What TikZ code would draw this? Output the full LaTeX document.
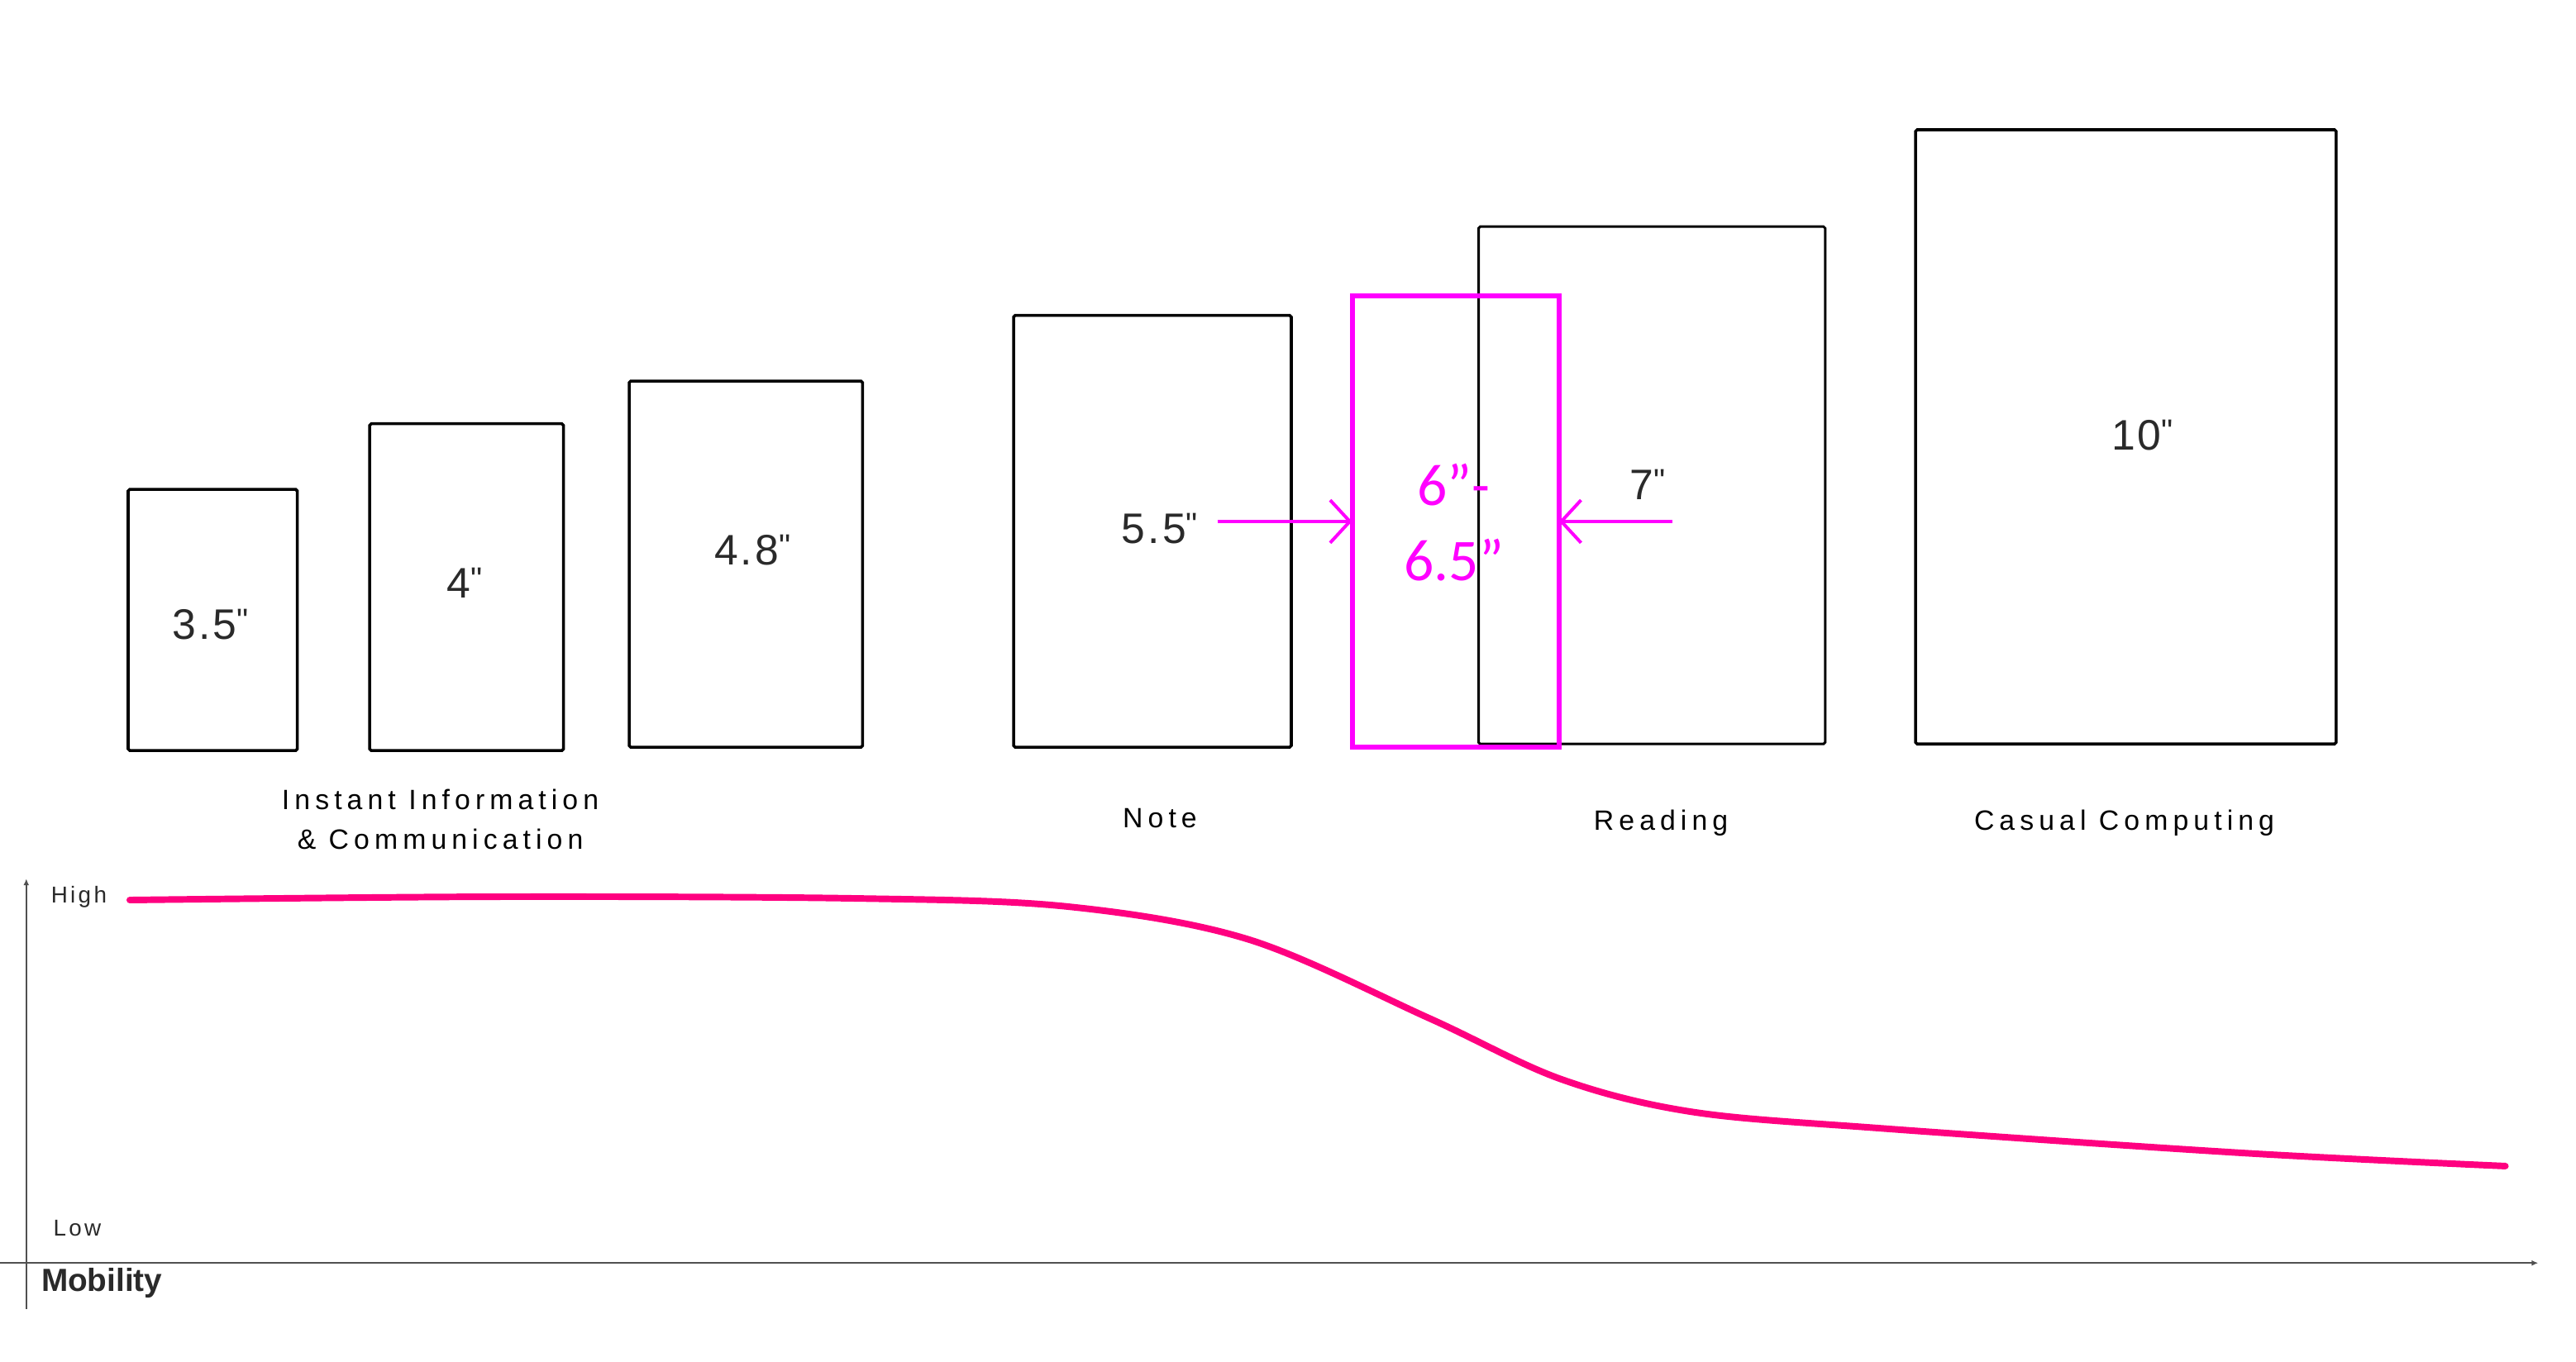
\documentclass[tikz,border=0pt]{standalone}
\usepackage{fontspec}
\setmainfont{Liberation Sans}
\newfontfamily\numfont[LetterSpace=6]{Liberation Sans}
\newfontfamily\catfont[LetterSpace=18]{Liberation Sans}
\newfontfamily\axfont[LetterSpace=12]{Liberation Sans}
\newfontfamily\magfont{Carlito}
\usetikzlibrary{arrows.meta}
\definecolor{magline}{HTML}{FF00FF}
\definecolor{curvepink}{HTML}{FF0080}
\definecolor{axisgray}{HTML}{505050}
\definecolor{labelgray}{HTML}{2A2A2A}
\newcommand{\inch}{\raisebox{4.5pt}{\fontsize{20}{22}\selectfont"}}
\tikzset{
  screen/.style={draw=black, line width=1.8pt, rounded corners=1pt, inner sep=0pt, outer sep=0pt},
  magscreen/.style={draw=magline, line width=3pt, inner sep=0pt, outer sep=0pt},
  numlbl/.style={inner sep=0pt, text=labelgray, font=\numfont\fontsize{26}{30}\selectfont},
  catlbl/.style={inner sep=0pt, text=black, align=center, font=\catfont\fontsize{17}{24}\selectfont},
  axlbl/.style={inner sep=0pt, text=labelgray, font=\axfont\fontsize{14}{16}\selectfont},
  maglbl/.style={inner sep=0pt, text=magline, align=center, font=\magfont\fontsize{36}{46}\selectfont},
  magarrow/.style={draw=magline, line width=2pt, -{Straight Barb[length=12pt,width=26pt,line width=2pt]}},
  axisline/.style={draw=axisgray, line width=1.3pt, -{Latex[length=4pt,width=3.5pt]}},
  curve/.style={draw=curvepink, line width=4pt, line cap=round, line join=round}
}
\begin{document}
\begin{tikzpicture}[x=1pt,y=-1pt]
\useasboundingbox (0,0) rectangle (1568,829);
% screens
\node[screen, minimum width=103pt, minimum height=159pt] (b35) at (129.5,377.5) {};
\node[screen, minimum width=118pt, minimum height=199pt] (b4) at (284,357.5) {};
\node[screen, minimum width=142pt, minimum height=223pt] (b48) at (454,343.5) {};
\node[screen, minimum width=169pt, minimum height=263pt] (b55) at (701.5,323.5) {};
\node[screen, line width=1.5pt, minimum width=211pt, minimum height=315pt] (b7) at (1005.5,295.5) {};
\node[screen, minimum width=256pt, minimum height=374pt] (b10) at (1294,266) {};
\node[magscreen, minimum width=126pt, minimum height=275pt] (mag) at (886,317.5) {};
% size labels
\node[numlbl] (t35) at (128,380) {3.5\inch};
\node[numlbl] (t4) at (283,355) {4\inch};
\node[numlbl] (t48) at (458,335) {4.8\inch};
\node[numlbl] (t55) at (706,322) {5.5\inch};
\node[numlbl] (t7) at (1003,295) {7\inch};
\node[numlbl] (t10) at (1304,265) {10\inch};
\node[maglbl] (tmag) at (885,318) {6”-\\6.5”};
% arrows
\coordinate (a1) at (741,317.5);
\coordinate (a2) at (1018,317.5);
\draw[magarrow] (a1) -- (mag.west);
\draw[magarrow] (a2) -- (mag.east);
% category labels
\node[catlbl] (c1) at (268,499) {Instant Information\\\& Communication};
\node[catlbl] (c2) at (706,498) {Note};
\node[catlbl] (c3) at (1011,501) {Reading};
\node[catlbl] (c4) at (1293,501) {Casual Computing};
% axes
\coordinate (yb) at (16,797);
\coordinate (yt) at (16,535);
\coordinate (xl) at (0,769);
\coordinate (xr) at (1545,769);
\draw[axisline] (yb) -- (yt);
\draw[axisline] (xl) -- (xr);
\node[axlbl] (hi) at (48,546) {High};
\node[axlbl] (lo) at (47,748) {Low};
\node[inner sep=0pt, text=labelgray, font=\bfseries\fontsize{19.5}{21}\selectfont] (mob) at (62,781) {Mobility};
% mobility curve
\draw[curve] plot[smooth, tension=0.55] coordinates {(79,548) (300,546) (520,547) (650,552) (760,572) (870,620) (950,657) (1030,677) (1145,687) (1365,702) (1525,710)};
\end{tikzpicture}
\end{document}
